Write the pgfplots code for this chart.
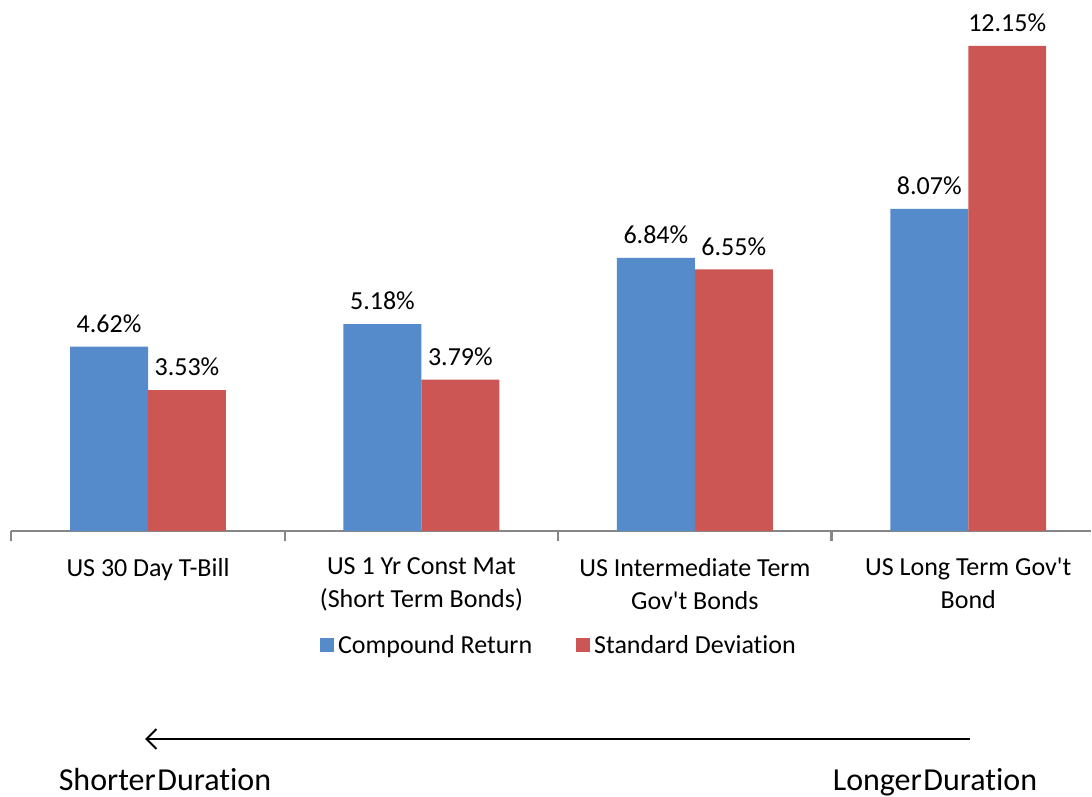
\documentclass[border=0pt]{standalone}
\usepackage{pgfplots}
\pgfplotsset{compat=1.18}
\usetikzlibrary{arrows.meta}
\usepackage{fontspec}
\setmainfont{Carlito}[Ligatures={NoCommon}]
\definecolor{cblue}{RGB}{86,139,203}
\definecolor{cred}{RGB}{204,86,84}
\definecolor{axgray}{RGB}{134,134,134}

\begin{document}
\begin{tikzpicture}[x=0.5pt,y=0.5pt]
% page = 1092 x 797 px, 1px = 0.5pt, origin at data (0,0) = pixel (148,531)
\path[use as bounding box] (-148,531) rectangle (944,-266);
\begin{axis}[
    at={(0,0)}, anchor=origin,
    scale only axis,
    width=540pt, height=265.5pt,
    ybar=0pt,
    bar width=0.285,
    xmin=-0.5, xmax=3.45,
    ymin=0, ymax=13.3,
    axis y line=none,
    axis x line*=bottom,
    x axis line style={axgray, line width=1.2pt, -},
    xtick={0,1,2,3},
    xticklabels={US 30 Day T-Bill, {US 1 Yr Const Mat\\(Short Term Bonds)},
      {US Intermediate Term\\Gov\textquotesingle t Bonds}, {US Long Term Gov\textquotesingle t\\Bond}},
    major tick length=0pt,
    xticklabel style={align=center, anchor=north, font=\fontsize{13}{16.5}\selectfont, yshift=-10pt},
    extra x ticks={-0.5,0.5,1.5,2.5},
    extra x tick labels={},
    extra x tick style={major tick length=5pt, tick align=outside,
      tick style={axgray, line width=1.2pt}},
    /pgf/number format/assume math mode=true,
    nodes near coords={\pgfmathprintnumber[fixed,precision=2,fixed zerofill]{\pgfplotspointmeta}\%},
    every node near coord/.append style={font=\fontsize{13}{15}\selectfont, black, yshift=3.5pt},
    clip=false,
    legend columns=2,
    legend style={draw=none, at={(0.508,-0.2166)}, anchor=center,
      font=\fontsize{13}{15}\selectfont,
      /tikz/every even column/.append style={column sep=20pt}},
    legend image code/.code={\fill[#1] (0pt,-3pt) rectangle (7pt,4pt);},
    ]
\addplot[fill=cblue, draw=none] coordinates {(0,4.62) (1,5.18) (2,6.84) (3,8.07)};
\addplot[fill=cred, draw=none] coordinates {(0,3.53) (1,3.79) (2,6.55) (3,12.15)};
\legend{Compound Return, Standard Deviation}
\end{axis}
% duration arrow (pixel coords relative to origin)
\draw[line width=1pt, -{Straight Barb[length=5pt,width=10pt]}] (822,-208) -- (-3,-208);
\node[font=\fontsize{16}{19}\selectfont, anchor=base, inner sep=0pt] at (17,-259) {Shorter\hspace{0.05em}Duration};
\node[font=\fontsize{16}{19}\selectfont, anchor=base, inner sep=0pt] at (787,-259) {Longer\hspace{0.05em}Duration};
\end{tikzpicture}
\end{document}
